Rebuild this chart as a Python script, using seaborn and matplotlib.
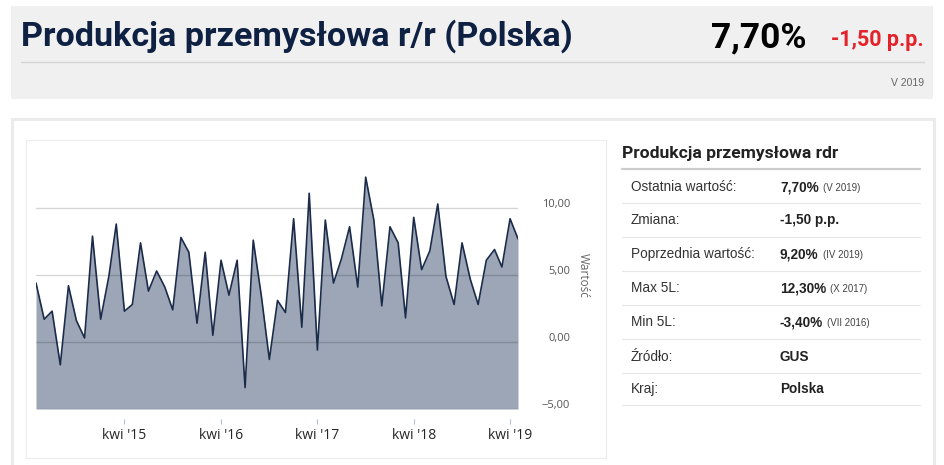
import numpy as np
import pandas as pd
import matplotlib.pyplot as plt
import matplotlib.transforms as mtransforms
from matplotlib.patches import Rectangle
import seaborn as sns

sns.set_style('white')
plt.rcParams['font.family'] = ['Open Sans', 'DejaVu Sans']

# ------------------------------------------------------------
# Data (industrial production y/y, Poland, V 2014 - V 2019)
# ------------------------------------------------------------
first_month = '2014-05-01'
values = [4.4, 1.7, 2.3, -1.7, 4.2, 1.6, 0.3, 7.9,
          1.7, 4.9, 8.8, 2.3, 2.8, 7.4, 3.8, 5.3, 4.1, 2.4, 7.8, 6.7,
          1.4, 6.7, 0.5, 6.1, 3.5, 6.1, -3.4, 7.6, 3.4, -1.3, 3.1, 2.2,
          9.2, 1.1, 11.1, -0.6, 9.1, 4.4, 6.2, 8.6, 4.1, 12.3, 9.1, 2.7,
          8.6, 7.4, 1.8, 9.3, 5.4, 6.8, 10.3, 4.9, 2.8, 7.4, 4.7, 2.8,
          6.1, 6.9, 5.6, 9.2, 7.7]
months = pd.date_range(first_month, periods=len(values), freq='MS')
df = pd.DataFrame({'month': months, 'value': values})

xtick_dates = ['2015-04-01', '2016-04-01', '2017-04-01', '2018-04-01', '2019-04-01']
xtick_labels = ["kwi '15", "kwi '16", "kwi '17", "kwi '18", "kwi '19"]
ytick_values = [-5, 0, 5, 10]
ytick_labels = ['\u22125,00', '0,00', '5,00', '10,00']

header_title = 'Produkcja przemysłowa r/r (Polska)'
header_value = '7,70%'
header_change = '-1,50 p.p.'
header_period = 'V 2019'

table_title = 'Produkcja przemysłowa rdr'
table_labels = ['Ostatnia wartość:', 'Zmiana:', 'Poprzednia wartość:', 'Max 5L:',
                'Min 5L:', 'Źródło:', 'Kraj:']
table_values = ['7,70%', '-1,50 p.p.', '9,20%', '12,30%', '-3,40%', 'GUS', 'Polska']
table_notes = ['(V 2019)', '', '(IV 2019)', '(X 2017)', '(VII 2016)', '', '']

# ------------------------------------------------------------
# Figure in pixel units
# ------------------------------------------------------------
W, H = 945, 465
fig = plt.figure(figsize=(W / 100, H / 100), dpi=100)

bg = fig.add_axes([0, 0, 1, 1])
bg.set_xlim(0, W)
bg.set_ylim(H, 0)
bg.axis('off')

TITLE_FONT = ['Roboto', 'DejaVu Sans']
TABLE_FONT = ['Liberation Sans', 'DejaVu Sans']

# header box
bg.add_patch(Rectangle((11, 6), 922, 93, facecolor='#f0f0f0', edgecolor='none'))
bg.text(21, 46, header_title, fontsize=24.6, fontweight='bold', color='#0e2142',
        family=TITLE_FONT, va='baseline', ha='left')
bg.plot([21, 924], [62, 62], color='#d6d6d6', lw=1)
bg.text(807, 47, header_value, fontsize=25.5, fontweight='bold', color='black',
        family=TITLE_FONT, va='baseline', ha='right')
bg.text(924, 46, header_change, fontsize=15.5, fontweight='bold', color='#e42229',
        family=TITLE_FONT, va='baseline', ha='right')
bg.text(924, 83, header_period, fontsize=7.5, color='#666666',
        family=TABLE_FONT, va='center', ha='right')

# content box + chart panel
bg.add_patch(Rectangle((12, 119), 922, 360, facecolor='white', edgecolor='#ebebeb', lw=2.2))
bg.add_patch(Rectangle((26, 140), 580, 318, facecolor='white', edgecolor='#ececec', lw=0.8))

# side table
bg.text(622, 158, table_title, fontsize=12.6, fontweight='bold', color='#222222',
        family=TITLE_FONT, va='baseline', ha='left')
bg.plot([622, 920], [169, 169], color='#cccccc', lw=1.6)
row_y = [187, 220, 254, 288, 322, 357, 389]
sep_y = [203, 237, 271, 305, 339, 373, 405]
renderer = fig.canvas.get_renderer()
for lab, val, note, y, sy in zip(table_labels, table_values, table_notes, row_y, sep_y):
    bg.text(631, y, lab, fontsize=9.8, color='#333333', family=TABLE_FONT, va='center')
    t = bg.text(780, y, val, fontsize=9.8, fontweight='bold', color='#222222',
                family=TABLE_FONT, va='center')
    if note:
        x1 = t.get_window_extent(renderer).x1
        bg.text(x1 + 4, y + 0.5, note, fontsize=7, color='#444444',
                family=TABLE_FONT, va='center')
    bg.plot([622, 920], [sy, sy], color='#e6e6e6', lw=0.8)

# ------------------------------------------------------------
# Area chart
# ------------------------------------------------------------
left, right, top, bottom = 36, 518, 141, 409
ax = fig.add_axes([left / W, 1 - bottom / H, (right - left) / W, (bottom - top) / H])
ax.patch.set_alpha(0)

ax.fill_between(df['month'], df['value'], -5, color='#9ca6b6', lw=0, zorder=1)
sns.lineplot(data=df, x='month', y='value', color='#1b2b4a', lw=1.2, ax=ax, zorder=3)

ax.set_xlim(months[0], months[-1])
ax.set_ylim(-5, 15)
ax.set_xlabel('')
ax.set_ylabel('')

ax.set_axisbelow(False)
ax.set_yticks(ytick_values)
ax.yaxis.grid(True, color='black', alpha=0.16, lw=1)
ax.yaxis.tick_right()
ax.set_yticklabels(ytick_labels, ha='right', fontsize=8, color='#555555')
ax.tick_params(axis='y', length=0, pad=37.5)
shift = mtransforms.ScaledTranslation(0, 5 / 100, fig.dpi_scale_trans)
for lbl in ax.get_yticklabels():
    lbl.set_transform(lbl.get_transform() + shift)

ax.set_xticks(pd.to_datetime(xtick_dates))
ax.set_xticklabels(xtick_labels, fontsize=7.6, color='#555555')
ax.spines['bottom'].set_position(('outward', 7.2))
ax.tick_params(axis='x', bottom=True, length=3.6, width=0.8, color='#b4c0d0', pad=3)

for s in ax.spines.values():
    s.set_visible(False)

fig.text(583 / W, 1 - 275 / H, 'Wartość', rotation=-90, fontsize=8.5, color='#666666',
         ha='center', va='center')

fig.savefig('out.png', dpi=100)
